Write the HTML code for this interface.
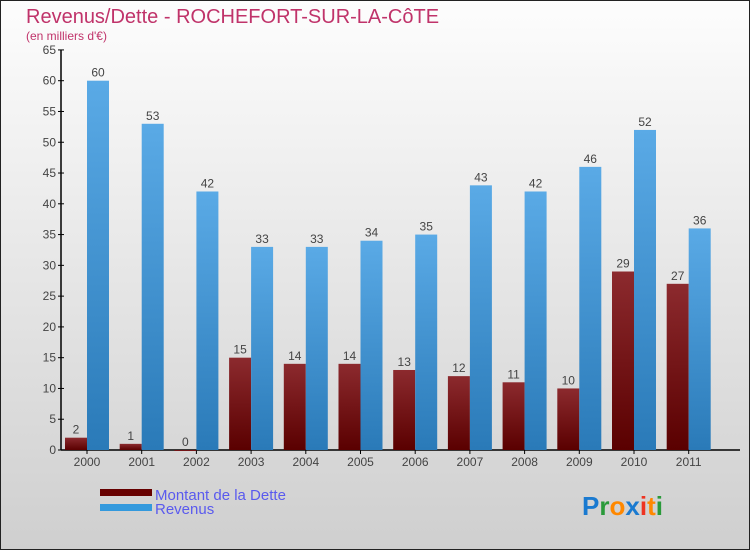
<!DOCTYPE html>
<html><head><meta charset="utf-8"><style>
body{margin:0;width:750px;height:550px;overflow:hidden;font-family:"Liberation Sans",sans-serif}
</style></head><body>
<svg width="750" height="550" xmlns="http://www.w3.org/2000/svg">
<defs>
<linearGradient id="bg" x1="0" y1="0" x2="0" y2="1"><stop offset="0" stop-color="#fdfdfd"/><stop offset="1" stop-color="#cfcfcf"/></linearGradient>
<linearGradient id="gd" x1="0" y1="0" x2="0" y2="1"><stop offset="0" stop-color="#8c2a2e"/><stop offset="1" stop-color="#5a0000"/></linearGradient>
<linearGradient id="gr" x1="0" y1="0" x2="0" y2="1"><stop offset="0" stop-color="#5aaae6"/><stop offset="1" stop-color="#2a7ab8"/></linearGradient>
</defs>
<rect x="0.5" y="0.5" width="749" height="549" fill="url(#bg)" stroke="#222"/>
<text x="26" y="23" font-size="20" fill="#c0336a">Revenus/Dette - ROCHEFORT-SUR-LA-CôTE</text>
<text x="26" y="40" font-size="12" fill="#c0336a">(en milliers d'€)</text>
<g id="axes"></g>
<g id="bars"></g>
<g>
<rect x="100" y="489" width="52" height="7" fill="#660000"/>
<text x="155" y="500" font-size="15" fill="#5a5aee">Montant de la Dette</text>
<rect x="100" y="504" width="52" height="7" fill="#3399dd"/>
<text x="155" y="514" font-size="15" fill="#5a5aee">Revenus</text>
</g>
<text x="582" y="515" font-size="26" font-weight="bold"><tspan fill="#1a7ad0">P</tspan><tspan fill="#2a9a3a">r</tspan><tspan fill="#ff8800">o</tspan><tspan fill="#1a7ad0">x</tspan><tspan fill="#ee3322">i</tspan><tspan fill="#ff8800">t</tspan><tspan fill="#2a9a3a">i</tspan></text>
</svg>
<script>
const categories=["2000","2001","2002","2003","2004","2005","2006","2007","2008","2009","2010","2011"];
const dette=[2,1,0,15,14,14,13,12,11,10,29,27];
const revenus=[60,53,42,33,33,34,35,43,42,46,52,36];
const ticks=[0,5,10,15,20,25,30,35,40,45,50,55,60,65];
const NS="http://www.w3.org/2000/svg";
const y0=450,k=6.155,x0=87,step=54.7,bw=22;
const yS=v=>y0-v*k, xS=i=>x0+i*step;
function mk(t,a,p){const e=document.createElementNS(NS,t);for(const n in a)e.setAttribute(n,a[n]);p.appendChild(e);return e;}
const ax=document.getElementById('axes'),bars=document.getElementById('bars');
const yl=mk('line',{x1:61,y1:y0,x2:61,y2:yS(65),stroke:'#000','stroke-width':1.5},ax);


const xl=mk('line',{x1:61,y1:y0,x2:740,y2:y0,stroke:'#000','stroke-width':1.5},ax);


ticks.forEach(t=>{
 mk('line',{x1:58,x2:64,y1:yS(t),y2:yS(t),stroke:'#000'},ax);
 const tx=mk('text',{x:56,y:yS(t)+4,'text-anchor':'end','font-size':12,fill:'#444'},ax);tx.textContent=t;
 
 
});
categories.forEach((c,i)=>{
 const cx=xS(i);
 mk('line',{x1:cx,x2:cx,y1:y0,y2:y0+4,stroke:'#000'},ax);
 const t=mk('text',{x:cx,y:466,'text-anchor':'middle','font-size':12,fill:'#444'},ax);t.textContent=c;
 
 
 const d=dette[i],r=revenus[i];
 const b1=mk('rect',{x:cx-bw,y:yS(d),width:bw,height:Math.max(d*k,1),fill:'url(#gd)'},bars);
 
 
 const l1=mk('text',{x:cx-bw/2,y:yS(d)-4,'text-anchor':'middle','font-size':12,fill:'#444'},bars);l1.textContent=d;
 
 
 const b2=mk('rect',{x:cx,y:yS(r),width:bw,height:r*k,fill:'url(#gr)'},bars);
 
 
 const l2=mk('text',{x:cx+bw/2,y:yS(r)-4,'text-anchor':'middle','font-size':12,fill:'#444'},bars);l2.textContent=r;
 
 
});
</script>
</body></html>
